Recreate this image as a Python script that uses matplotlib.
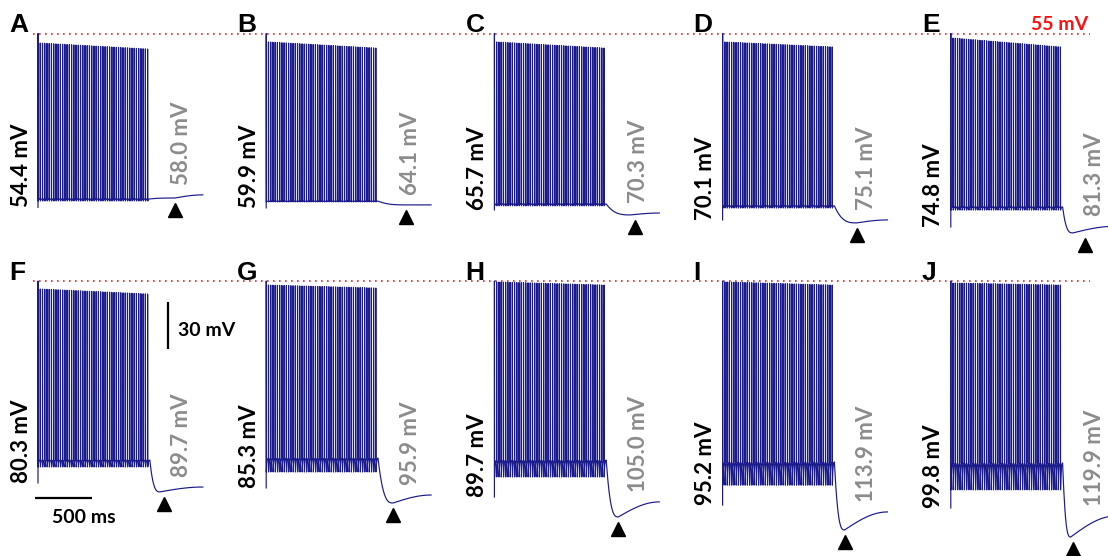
import matplotlib
matplotlib.use("Agg")
import matplotlib.pyplot as plt
import numpy as np

# panel letters and the two values written beside each trace (mV)
panel_labels = ["A", "B", "C", "D", "E", "F", "G", "H", "I", "J"]
left_values = [54.4, 59.9, 65.7, 70.1, 74.8, 80.3, 85.3, 89.7, 95.2, 99.8]
right_values = [58.0, 64.1, 70.3, 75.1, 81.3, 89.7, 95.9, 105.0, 113.9, 119.9]

# trace shape, mV relative to the dotted 55 mV line
peak_early = [-6.1, -5.4, -5.4, -5.4, -2.9, -5.1, -2.6, -0.6, -0.6, -1.3]
peak_late = [-9.9, -9.3, -9.3, -8.6, -8.6, -8.3, -4.5, -2.6, -2.6, -2.6]
threshold = [-105.6, -107.0, -108.8, -110.0, -110.7, -114.3, -113.0, -114.3, -115.5, -116.1]
spike_trough = [-106.9, -107.5, -110.0, -111.4, -112.7, -118.7, -121.9, -125.1, -130.3, -133.3]
v_start = [-111.0, -111.3, -112.6, -119.0, -123.5, -128.9, -132.1, -137.9, -143.0, -144.9]
ahp_min = [-105.0, -109.4, -115.8, -120.9, -127.3, -134.6, -141.7, -150.6, -158.9, -163.4]
ahp_time = [1200, 1226, 1191, 1174, 1069, 1069, 1113, 1086, 1069, 1051]  # ms after onset
v_end = [-103.0, -109.4, -114.6, -119.0, -123.0, -131.5, -136.6, -141.0, -147.4, -150.0]
arrow_time = [1200, 1226, 1235, 1174, 1174, 1104, 1112, 1086, 1069, 1069]

n_spikes = 50
stim_ms = 980
trace_ms = 1445
panel_step_ms = 2000

TRACE = "#1a1a8a"
GRAY = "#8c8c8c"
VAL_FONT = ["Lato", "DejaVu Sans"]
LET_FONT = ["Liberation Sans", "DejaVu Sans"]

# pixel scale of the original figure
px_ms = 0.1141
px_mv = 47 / 30.0


def build_trace(i):
    isi = stim_ms / n_spikes
    t, v = [0.0], [v_start[i]]
    for k in range(n_spikes):
        t0 = k * isi
        if k == 0:
            pk = 0.0
        else:
            pk = peak_early[i] + (peak_late[i] - peak_early[i]) * (k - 1) / (n_spikes - 2)
        t += [t0 + 0.3, t0 + 1.6]
        v += [pk, spike_trough[i]]
        for f in (0.1, 0.2, 0.35, 0.5, 0.7, 1.0):
            t.append(t0 + 1.6 + f * (isi - 1.9))
            v.append(spike_trough[i] + (threshold[i] - spike_trough[i])
                     * (1 - np.exp(-4 * f)) / (1 - np.exp(-4)))
    # after-hyperpolarisation
    t1 = np.linspace(stim_ms, ahp_time[i], 15)[1:]
    u = (t1 - stim_ms) / (ahp_time[i] - stim_ms)
    v1 = threshold[i] + (ahp_min[i] - threshold[i]) * (1 - (1 - u) ** 3)
    t2 = np.linspace(ahp_time[i], trace_ms, 25)[1:]
    w = (t2 - ahp_time[i]) / (trace_ms - ahp_time[i])
    v2 = ahp_min[i] + (v_end[i] - ahp_min[i]) * np.sin(np.pi / 2 * w)
    return np.concatenate([t, t1, t2]), np.concatenate([v, v1, v2])


fig = plt.figure(figsize=(11.08, 5.56), dpi=100)
ax_top = fig.add_axes([0, 0.5, 1, 0.5])
ax_bot = fig.add_axes([0, 0.0, 1, 0.5])
x_lim = (-38 / px_ms, (1108 - 38) / px_ms)
ax_top.set_xlim(*x_lim)
ax_bot.set_xlim(*x_lim)
ax_top.set_ylim(-(278 - 33.5) / px_mv, 33.5 / px_mv)
ax_bot.set_ylim(-(556 - 281) / px_mv, 3 / px_mv)

for ax in (ax_top, ax_bot):
    ax.axis("off")
    ax.plot([-44, 9220], [0, 0], color="#e8262a", lw=1.2,
            linestyle=(0, (1, 2.6)), zorder=1)

for i, lab in enumerate(panel_labels):
    ax = ax_top if i < 5 else ax_bot
    x0 = (i % 5) * panel_step_ms
    t, v = build_trace(i)
    ax.plot(x0 + t, v, color=TRACE, lw=0.85, zorder=2)
    ax.plot(x0 + arrow_time[i], ahp_min[i] - 7.5, marker="^", ms=10,
            color="black", zorder=3)
    ax.text(x0 - 29 / px_ms, 0.8, lab, ha="left", va="baseline",
            fontsize=19, fontweight="bold", family=LET_FONT, zorder=4)
    ax.text(x0 - 17 / px_ms, v_start[i], f"{left_values[i]:.1f} mV",
            rotation=90, rotation_mode="anchor", ha="left", va="center",
            fontsize=16, fontweight="bold", family=VAL_FONT, color="black")
    ax.text(x0 + 144 / px_ms, v_end[i] + 6.5, f"{right_values[i]:.1f} mV",
            rotation=90, rotation_mode="anchor", ha="left", va="center",
            fontsize=16, fontweight="bold", family=VAL_FONT, color=GRAY)

ax_top.text(8957, 2.2, "55 mV", ha="center", va="baseline", color="#ff1010",
            fontsize=14, fontweight="bold", family=VAL_FONT)

# scale bars
ax_bot.plot([1139, 1139], [-13.4, -43.4], color="black", lw=1.6,
            solid_capstyle="butt")
ax_bot.text(1227, -31.3, "30 mV", ha="left", va="center", fontsize=14,
            fontweight="bold", family=VAL_FONT)
ax_bot.plot([-26, 474], [-138.5, -138.5], color="black", lw=1.6,
            solid_capstyle="butt")
ax_bot.text(403, -151, "500 ms", ha="center", va="center", fontsize=14,
            fontweight="bold", family=VAL_FONT)

fig.savefig("out.png", dpi=100)
